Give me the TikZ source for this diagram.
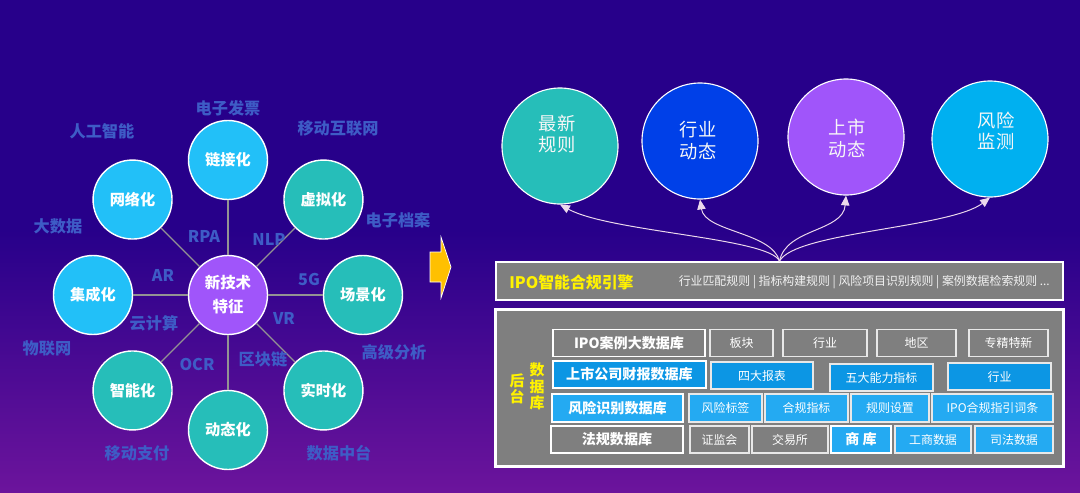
\documentclass[tikz,border=0pt]{standalone}
\usepackage{fontspec}
\setmainfont{Noto Sans CJK SC}
\usetikzlibrary{arrows.meta,calc}

\definecolor{bgtop}{RGB}{39,0,138}
\definecolor{bgbot}{RGB}{108,20,156}
\definecolor{skyblue}{RGB}{34,192,248}
\definecolor{tealc}{RGB}{38,190,185}
\definecolor{violetc}{RGB}{160,85,250}
\definecolor{royal}{RGB}{0,64,232}
\definecolor{cyanc}{RGB}{0,176,240}
\definecolor{techlabel}{RGB}{62,92,198}
\definecolor{panelgray}{RGB}{127,127,127}
\definecolor{rowblue}{RGB}{12,150,228}
\definecolor{cellblue}{RGB}{36,170,242}
\definecolor{amber}{RGB}{255,192,0}
\newcommand{\pu}{0.025cm}

\begin{document}
\begin{tikzpicture}[x=0.025cm,y=-0.025cm,>=Latex,
  every node/.style={inner sep=0pt},
  sat/.style={circle,draw=white,line width=1pt,minimum size=79*\pu,text=white,
    font=\fontsize{10.8}{12}\selectfont\bfseries},
  spoke/.style={draw=gray!85,line width=0.9pt},
  tech/.style={text=techlabel,font=\fontsize{11.5}{13}\selectfont\bfseries},
  feed/.style={circle,draw=white,line width=0.8pt,minimum size=116*\pu},
  feedtext/.style={text=white!94!gray,align=center,font=\fontsize{13}{15.6}\selectfont},
  flow/.style={-{Triangle[width=6pt,length=7pt]},draw=white!85!violet,line width=0.7pt},
  dbname/.style={draw=white,line width=1.1pt,text=white,minimum width=#1*\pu,minimum height=27*\pu,
    font=\fontsize{10}{12}\selectfont\bfseries},
  cell/.style={draw=white!82!gray,line width=0.8pt,text=white,minimum width=#1*\pu,minimum height=27*\pu,
    font=\fontsize{8.5}{10}\selectfont},
  ]
  \useasboundingbox (0,0) rectangle (1080,493);
  \fill[bgtop] (0,0) rectangle (1080,493);
  \shade[top color=bgtop,bottom color=bgbot] (0,230) rectangle (1080,493);

  % technology wheel
  \node[sat,fill=violetc,align=center,font=\fontsize{11}{17}\selectfont\bfseries]
    (core) at (228,295) {新技术\\特征};
  \foreach \ang/\nm/\col/\txt in {0/scene/tealc/场景化, 45/realtime/tealc/实时化,
      90/dynamic/tealc/动态化, 135/smart/tealc/智能化, 180/integ/skyblue/集成化,
      225/network/skyblue/网络化, 270/link/skyblue/链接化, 315/virtual/tealc/虚拟化}{
    \node[sat,fill=\col] (\nm) at ($(core)+(\ang:135)$) {\txt};
    \draw[spoke] (core) -- (\nm);
  }

  \node[tech] (rpa) at (204,236) {RPA};
  \node[tech] (nlp) at (269,239) {NLP};
  \node[tech] (ar) at (163,275) {AR};
  \node[tech] (fiveg) at (309,279) {5G};
  \node[tech] (cloud) at (154,323) {云计算};
  \node[tech] (vr) at (284,318) {VR};
  \node[tech] (ocr) at (197,364) {OCR};
  \node[tech] (chain) at (263,359) {区块链};
  \node[tech] (einvoice) at (228,108) {电子发票};
  \node[tech] (ai) at (102,131) {人工智能};
  \node[tech] (mobnet) at (338,128) {移动互联网};
  \node[tech] (bigdata) at (58,226) {大数据};
  \node[tech] (earchive) at (398,220) {电子档案};
  \node[tech] (iot) at (47,348) {物联网};
  \node[tech] (analytics) at (394,352) {高级分析};
  \node[tech] (mpay) at (137,453) {移动支付};
  \node[tech] (datahub) at (339,453) {数据中台};

  % arrow between the halves
  \filldraw[fill=amber,draw=white,line width=0.5pt] (430,252) -- (441,252) -- (441,237)
    -- (451,267) -- (441,298) -- (441,282) -- (430,282) -- cycle;

  % feeds
  \node[feed,fill=tealc] (rules) at (560,146) {};
  \node[feed,fill=royal] (trade) at (700,141) {};
  \node[feed,fill=violetc] (listing) at (846,137) {};
  \node[feed,fill=cyanc] (risk) at (990,139) {};
  \node[feedtext] (rulesT) at (557,134) {最新\\规则};
  \node[feedtext] (tradeT) at (698,141) {行业\\动态};
  \node[feedtext] (listingT) at (847,138.5) {上市\\动态};
  \node[feedtext] (riskT) at (996,131) {风险\\监测};

  % engine
  \node[draw=white,line width=1.2pt,fill=panelgray,minimum width=567*\pu,minimum height=38*\pu]
    (engine) at (779.5,281) {};
  \node[anchor=west,text=yellow,font=\fontsize{11.3}{13}\selectfont\bfseries]
    (engname) at (509,282) {IPO智能合规引擎};
  \node[anchor=east,text=white!90!gray,font=\fontsize{8.45}{10}\selectfont]
    (engrules) at (1050,282) {行业匹配规则 | 指标构建规则 | 风险项目识别规则 | 案例数据检索规则 ...};

  \draw[flow] (engine.north) .. controls (770,238) and (610,232) .. (rules.south);
  \draw[flow] (engine.north) .. controls (772,232) and (705,232) .. (trade.south);
  \draw[flow] (engine.north) .. controls (786,228) and (843,232) .. (listing.south);
  \draw[flow] (engine.north) .. controls (795,232) and (950,228) .. (risk.south);

  % database panel
  \node[draw=white,line width=2.2pt,fill=panelgray,minimum width=568*\pu,minimum height=157*\pu]
    (panel) at (779.5,388) {};
  \node[text=yellow,align=center,font=\fontsize{10.6}{11.3}\selectfont\bfseries]
    (backend) at (517,389) {后\\台};
  \node[text=yellow,align=center,font=\fontsize{10.6}{11.7}\selectfont\bfseries]
    (dbword) at (537,386.5) {数\\据\\库};

  \node[dbname=152,fill=panelgray] (casedb) at (629,343) {IPO案例大数据库};
  \node[cell=63,fill=panelgray] (sector) at (741.5,343) {板块};
  \node[cell=84,fill=panelgray] (industryA) at (825,343) {行业};
  \node[cell=79,fill=panelgray] (region) at (916.5,343) {地区};
  \node[cell=79,fill=panelgray] (special) at (1008.5,343) {专精特新};

  \node[dbname=153,fill=rowblue] (findb) at (629.5,374.5) {上市公司财报数据库};
  \node[cell=102,fill=rowblue] (reports) at (762,375.5) {四大报表};
  \node[cell=103,fill=rowblue] (abilities) at (881.5,377.5) {五大能力指标};
  \node[cell=103,fill=rowblue] (industryB) at (999.5,376.5) {行业};

  \node[dbname=131,fill=cellblue,minimum height=28*\pu] (riskdb) at (617.5,408) {风险识别数据库};
  \node[cell=73,fill=cellblue,minimum height=28*\pu] (risktag) at (725.5,408) {风险标签};
  \node[cell=83,fill=cellblue,minimum height=28*\pu] (compind) at (806.5,408) {合规指标};
  \node[cell=78,fill=cellblue,minimum height=28*\pu] (ruleset) at (890,408) {规则设置};
  \node[cell=121,fill=cellblue,minimum height=28*\pu] (guide) at (992.5,408) {IPO合规指引词条};

  \node[dbname=132,fill=panelgray] (lawdb) at (617,439.5) {法规数据库};
  \node[cell=59,fill=panelgray] (csrc) at (719.5,439.5) {证监会};
  \node[cell=76,fill=panelgray] (exchange) at (790,439.5) {交易所};
  \node[dbname=60,fill=cellblue] (bizdb) at (861,439.5) {商 库};
  \node[cell=76,fill=cellblue] (bizdata) at (933,439.5) {工商数据};
  \node[cell=78,fill=cellblue] (judicial) at (1014,439.5) {司法数据};
\end{tikzpicture}
\end{document}
